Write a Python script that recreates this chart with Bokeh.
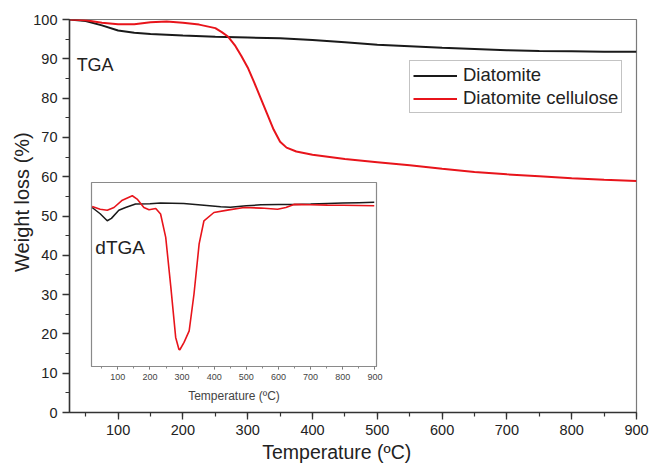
from bokeh.plotting import figure
from bokeh.models import Range1d, SingleIntervalTicker, Legend, LegendItem, Label
from bokeh.layouts import column
from bokeh.embed import file_html
from bokeh.resources import INLINE

# ---------------- data ----------------
# TGA main curves
t_dia = [25, 50, 75, 100, 125, 150, 200, 250, 300, 350, 400, 450, 500, 550, 600, 650, 700, 750, 800, 850, 900]
w_dia = [100, 99.6, 98.5, 97.2, 96.6, 96.3, 95.9, 95.6, 95.4, 95.2, 94.8, 94.2, 93.6, 93.2, 92.8, 92.5, 92.2, 92.0, 91.9, 91.8, 91.8]

t_cel = [25, 50, 75, 100, 125, 150, 175, 200, 225, 250, 260, 270, 280, 290, 300, 310, 320, 330, 340, 350, 360, 375,
         400, 450, 500, 550, 600, 650, 700, 750, 800, 850, 900]
w_cel = [100, 99.8, 99.2, 98.8, 98.8, 99.3, 99.5, 99.2, 98.7, 97.8, 96.8, 95.6, 93.5, 90.8, 87.8, 84.0, 80.0, 76.0,
         72.0, 68.9, 67.4, 66.4, 65.6, 64.5, 63.7, 62.9, 62.0, 61.2, 60.6, 60.1, 59.6, 59.2, 58.9]

# dTGA inset curves (arbitrary units, 0-100 across the inset frame)
td_dia = [20, 45, 67, 80, 103, 124, 155, 200, 233, 305, 368, 420, 450, 500, 545, 600, 648, 700, 752, 800, 850, 898]
d_dia = [86.4, 83.0, 79.2, 80.5, 84.9, 86.4, 88.3, 88.5, 88.8, 88.6, 87.7, 86.8, 86.6, 87.3, 87.9, 88.0, 88.1, 88.3,
         88.6, 88.8, 89.0, 89.2]

td_cel = [20, 45, 67, 88, 114, 145, 160, 181, 197, 218, 233, 249, 265, 280, 290, 293, 306, 322, 337, 353, 368, 399,
          441, 493, 545, 597, 623, 648, 700, 752, 800, 850, 898]
d_cel = [87.0, 85.5, 84.9, 86.4, 90.4, 92.8, 91.0, 86.4, 85.2, 85.9, 82.9, 70.2, 43.0, 15.8, 9.4, 9.1, 13.1, 19.4,
         39.4, 66.6, 79.2, 83.7, 85.0, 86.4, 86.1, 85.5, 86.4, 88.1, 87.9, 87.7, 87.6, 87.5, 87.4]

series_names = ["Diatomite", "Diatomite cellulose"]
x_title = "Temperature (ºC)"
y_title = "Weight loss (%)"

FONT = "Liberation Sans"
BLACK = "#1a1a1a"
RED = "#e8141b"
NB = "\u00a0"

# ---------------- main figure ----------------
p = figure(width=649, height=465, output_backend="svg", toolbar_location=None,
           x_range=Range1d(25, 900), y_range=Range1d(0, 100),
           min_border_left=69, min_border_right=13, min_border_top=19, min_border_bottom=53)
p.xgrid.visible = False
p.ygrid.visible = False
p.outline_line_color = "#7a7a7a"
p.outline_line_width = 1.2
p.background_fill_color = "white"
p.border_fill_color = "white"

p.xaxis.ticker = SingleIntervalTicker(interval=100, num_minor_ticks=2)
p.yaxis.ticker = SingleIntervalTicker(interval=10, num_minor_ticks=2)
for ax in (p.xaxis, p.yaxis):
    ax.axis_line_color = "#333333"
    ax.axis_line_width = 1.5
    ax.major_tick_line_color = "#333333"
    ax.minor_tick_line_color = "#333333"
    ax.major_tick_line_width = 1.3
    ax.minor_tick_line_width = 1.2
    ax.major_tick_in = 0
    ax.minor_tick_in = 0
    ax.major_tick_out = 7
    ax.minor_tick_out = 4
    ax.major_label_text_font = FONT
    ax.major_label_text_font_size = "14.5px"
    ax.major_label_text_color = "#222222"
    ax.axis_label_text_font = FONT
    ax.axis_label_text_font_style = "normal"
    ax.axis_label_text_color = "#222222"
p.xaxis.axis_label_text_font_size = "19.5px"
p.yaxis.axis_label_text_font_size = "20px"
p.xaxis.major_label_standoff = 5
p.yaxis.major_label_standoff = 5
p.xaxis.axis_label = x_title + NB * 6
p.yaxis.axis_label = NB * 5 + y_title
p.xaxis.axis_label_standoff = 3
p.yaxis.axis_label_standoff = -3

r1 = p.line(t_dia, w_dia, line_color=BLACK, line_width=2)
r2 = p.line(t_cel, w_cel, line_color=RED, line_width=2)

legend = Legend(items=[LegendItem(label=series_names[0], renderers=[r1]),
                       LegendItem(label=series_names[1], renderers=[r2])],
                location=(340, 299))
legend.label_text_font = FONT
legend.label_text_font_size = "18.5px"
legend.label_text_color = "#222222"
legend.glyph_width = 44
legend.glyph_height = 21
legend.label_height = 21
legend.label_standoff = 6
legend.padding = 3
legend.spacing = 1
legend.margin = 0
legend.border_line_color = "#888888"
legend.border_line_width = 1
legend.background_fill_color = "white"
p.add_layout(legend)

p.add_layout(Label(x=36, y=88.3, text="TGA", text_font=FONT, text_font_size="18px",
                   text_color="#222222", text_baseline="middle"))

# ---------------- inset figure ----------------
# left border equals the main figure's, since the column aligns the frames
q = figure(width=367, height=228, output_backend="svg", toolbar_location=None,
           x_range=Range1d(18, 905), y_range=Range1d(0, 100), y_axis_location=None,
           min_border_left=69, min_border_right=13, min_border_top=5, min_border_bottom=39)
q.xgrid.visible = False
q.ygrid.visible = False
q.outline_line_color = "#8a8a8a"
q.outline_line_width = 1.2
q.background_fill_color = "white"
q.border_fill_alpha = 0
q.xaxis.ticker = SingleIntervalTicker(interval=100, num_minor_ticks=2)
q.xaxis.axis_line_color = "#8a8a8a"
q.xaxis.major_tick_line_color = "#666666"
q.xaxis.minor_tick_line_color = "#888888"
q.xaxis.major_tick_in = 0
q.xaxis.minor_tick_in = 0
q.xaxis.major_tick_out = 3
q.xaxis.minor_tick_out = 2
q.xaxis.major_label_text_font = FONT
q.xaxis.major_label_text_font_size = "9px"
q.xaxis.major_label_text_color = "#444444"
q.xaxis.major_label_standoff = 4
q.xaxis.axis_label = x_title
q.xaxis.axis_label_text_font = FONT
q.xaxis.axis_label_text_font_size = "12px"
q.xaxis.axis_label_text_font_style = "normal"
q.xaxis.axis_label_text_color = "#444444"
q.xaxis.axis_label_standoff = 6

q.line(td_dia, d_dia, line_color=BLACK, line_width=1.5)
q.line(td_cel, d_cel, line_color=RED, line_width=1.6)
q.add_layout(Label(x=30, y=64.7, text="dTGA", text_font=FONT, text_font_size="19px",
                   text_color="#222222", text_baseline="middle"))

q.styles = {"position": "absolute", "left": "22px", "top": "177px", "z-index": "5"}

layout = column(p, q, width=649, height=465)
layout.styles = {"position": "relative"}

open("out.html", "w").write(file_html(layout, INLINE))
